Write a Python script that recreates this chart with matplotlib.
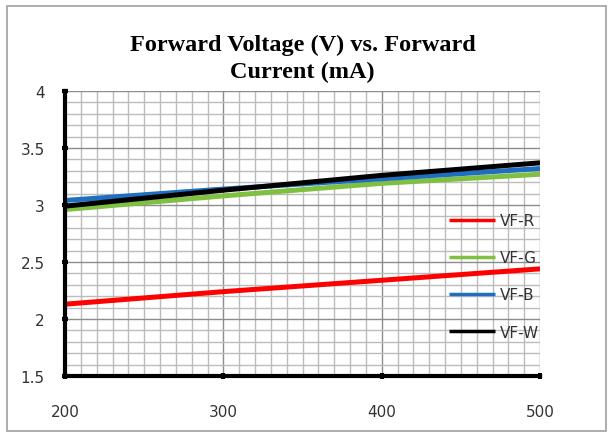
import matplotlib
matplotlib.use('Agg')
import matplotlib.pyplot as plt
from matplotlib.patches import Rectangle
from matplotlib.ticker import MultipleLocator

# Forward current (mA) and forward voltage (V) per LED colour
current = [200, 300, 400, 500]
vf_r = [2.13, 2.24, 2.34, 2.44]
vf_g = [2.96, 3.08, 3.19, 3.27]
vf_b = [3.04, 3.14, 3.23, 3.32]
vf_w = [2.99, 3.13, 3.26, 3.37]
labels = ['VF-R', 'VF-G', 'VF-B', 'VF-W']

COLORS = ['#ff0000', '#80c040', '#1f6fc0', '#000000']

fig = plt.figure(figsize=(6.15, 4.39), dpi=100)
ax = fig.add_axes([0.1057, 0.1412, 0.7724, 0.6492])

# Outer chart border
fig.patches.append(Rectangle((0.011, 0.015), 0.975, 0.97, transform=fig.transFigure,
                             fill=False, edgecolor='#a0a0a0', linewidth=1.2))

for vals, lab, col in zip([vf_r, vf_g, vf_b, vf_w], labels, COLORS):
    ax.plot(current, vals, color=col, linewidth=3.6, label=lab,
            solid_capstyle='butt')

ax.set_xlim(200, 500)
ax.set_ylim(1.5, 4)
ax.xaxis.set_major_locator(MultipleLocator(100))
ax.xaxis.set_minor_locator(MultipleLocator(10))
ax.yaxis.set_major_locator(MultipleLocator(0.5))
ax.yaxis.set_minor_locator(MultipleLocator(0.1))
ax.set_yticks([1.5, 2, 2.5, 3, 3.5, 4])
ax.set_yticklabels(['1.5', '2', '2.5', '3', '3.5', '4'])

ax.grid(which='minor', color='#bcbcbc', linewidth=1.0)
ax.grid(which='major', color='#8c8c8c', linewidth=1.0)
ax.set_axisbelow(True)

for s in ['top', 'right']:
    ax.spines[s].set_visible(False)
for s in ['left', 'bottom']:
    ax.spines[s].set_linewidth(3)
    ax.spines[s].set_color('black')

ax.tick_params(which='major', direction='inout', length=5, width=3, color='black',
               labelsize=11, labelcolor='#333333')
ax.tick_params(axis='x', which='major', pad=18)
ax.tick_params(axis='y', which='major', pad=12)
ax.tick_params(which='minor', length=0)

ax.set_title('Forward Voltage (V) vs. Forward\nCurrent (mA)', family='Liberation Serif',
             fontweight='bold', fontsize=17.5, pad=10, linespacing=1.4)

leg = ax.legend(loc='upper left', bbox_to_anchor=(0.78, 0.62), frameon=False,
                labelspacing=1.45, handlelength=3.0, handletextpad=0.3, fontsize=11,
                labelcolor='#333333')
for h in leg.get_lines():
    h.set_linewidth(2.5)

plt.savefig('out.png', dpi=100, facecolor='white')
